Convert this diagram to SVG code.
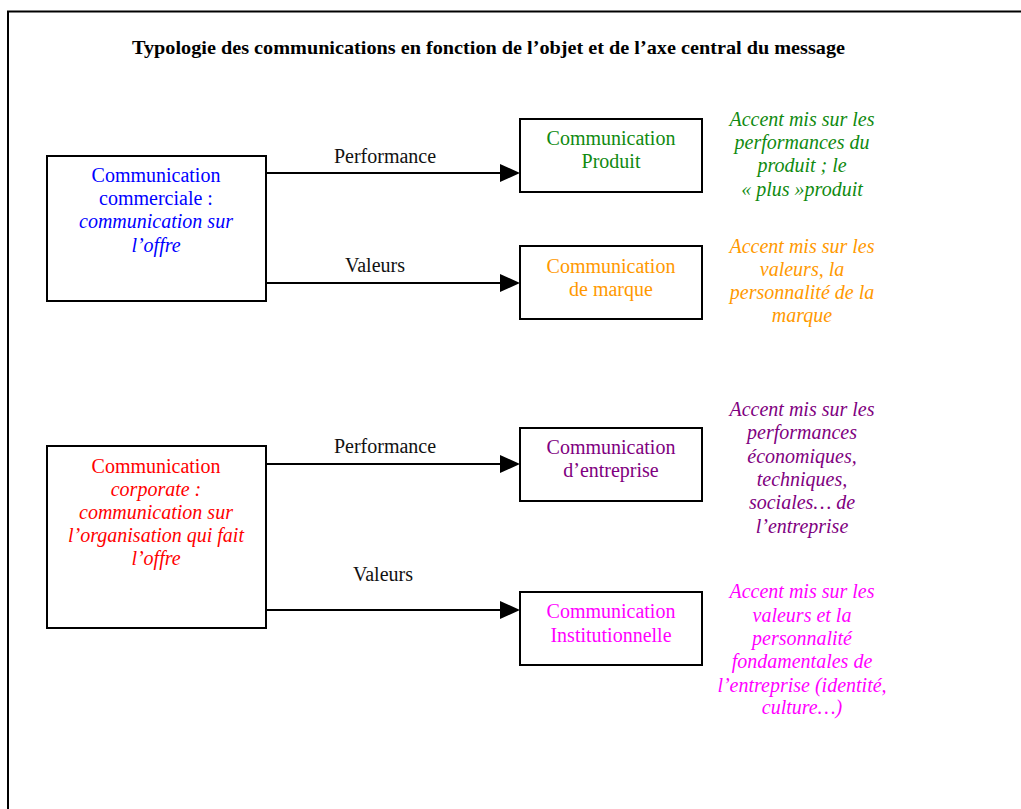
<svg xmlns="http://www.w3.org/2000/svg" width="1021" height="809" viewBox="0 0 1021 809">
  <style>
    text { font-family: "Liberation Serif", "Times New Roman", serif; font-size: 20px; text-anchor: middle; }
    .title { font-weight: bold; font-size: 19px; text-anchor: start; fill: #000; }
    .lbl { fill: #111; }
    .it { font-style: italic; }
    .box { fill: #fff; stroke: #000; stroke-width: 2; }
    .edge { fill: none; stroke: #000; stroke-width: 2; }
    .blue { fill: #0000ff; }
    .red { fill: #ff0000; }
    .green { fill: #108a10; }
    .orange { fill: #ff9900; }
    .purple { fill: #800080; }
    .magenta { fill: #ff00ff; }
  </style>
  <defs>
    <marker id="head" markerUnits="userSpaceOnUse" markerWidth="20" markerHeight="20" refX="2" refY="9" orient="auto">
      <path d="M0,0 L20,9 L0,18 z" fill="#000"/>
    </marker>
  </defs>

  <rect width="1021" height="809" fill="#fff"/>
  <!-- page frame -->
  <path d="M8,830 V11.5 H1040" fill="none" stroke="#000" stroke-width="2"/>

  <text class="title" x="132" y="54" textLength="713" lengthAdjust="spacingAndGlyphs">Typologie des communications en fonction de l’objet et de l’axe central du message</text>

  <!-- connectors -->
  <g id="connectors">
    <path class="edge" d="M266,173 H502" marker-end="url(#head)"/>
    <path class="edge" d="M266,283 H502" marker-end="url(#head)"/>
    <path class="edge" d="M266,464 H502" marker-end="url(#head)"/>
    <path class="edge" d="M266,610 H502" marker-end="url(#head)"/>
    <text class="lbl" x="385" y="163">Performance</text>
    <text class="lbl" x="375" y="272">Valeurs</text>
    <text class="lbl" x="385" y="453">Performance</text>
    <text class="lbl" x="383" y="581">Valeurs</text>
  </g>

  <!-- source nodes -->
  <g id="commerciale">
    <rect class="box" x="47" y="156" width="219" height="145"/>
    <text class="blue" x="156" y="182">Communication</text>
    <text class="blue" x="156" y="205">commerciale :</text>
    <text class="blue it" x="156" y="228">communication sur</text>
    <text class="blue it" x="156" y="252">l’offre</text>
  </g>

  <g id="corporate">
    <rect class="box" x="47" y="446" width="219" height="182"/>
    <text class="red" x="156" y="473">Communication</text>
    <text class="red it" x="156" y="496">corporate :</text>
    <text class="red it" x="156" y="519">communication sur</text>
    <text class="red it" x="156" y="542">l’organisation qui fait</text>
    <text class="red it" x="156" y="565">l’offre</text>
  </g>

  <!-- target nodes -->
  <g id="produit">
    <rect class="box" x="520" y="119" width="182" height="73"/>
    <text class="green" x="611" y="145">Communication</text>
    <text class="green" x="611" y="168">Produit</text>
  </g>

  <g id="marque">
    <rect class="box" x="520" y="246" width="182" height="73"/>
    <text class="orange" x="611" y="273">Communication</text>
    <text class="orange" x="611" y="296">de marque</text>
  </g>

  <g id="entreprise">
    <rect class="box" x="520" y="428" width="182" height="73"/>
    <text class="purple" x="611" y="454">Communication</text>
    <text class="purple" x="611" y="477">d’entreprise</text>
  </g>

  <g id="institutionnelle">
    <rect class="box" x="520" y="592" width="182" height="73"/>
    <text class="magenta" x="611" y="618">Communication</text>
    <text class="magenta" x="611" y="642">Institutionnelle</text>
  </g>

  <!-- annotations -->
  <g id="note-produit">
    <text class="green it" x="802" y="126">Accent mis sur les</text>
    <text class="green it" x="802" y="149">performances du</text>
    <text class="green it" x="802" y="172">produit ; le</text>
    <text class="green it" x="802" y="196">« plus »produit</text>
  </g>

  <g id="note-marque">
    <text class="orange it" x="802" y="253">Accent mis sur les</text>
    <text class="orange it" x="802" y="276">valeurs, la</text>
    <text class="orange it" x="802" y="299">personnalité de la</text>
    <text class="orange it" x="802" y="322">marque</text>
  </g>

  <g id="note-entreprise">
    <text class="purple it" x="802" y="416">Accent mis sur les</text>
    <text class="purple it" x="802" y="439">performances</text>
    <text class="purple it" x="802" y="463">économiques,</text>
    <text class="purple it" x="802" y="486">techniques,</text>
    <text class="purple it" x="802" y="509">sociales… de</text>
    <text class="purple it" x="802" y="533">l’entreprise</text>
  </g>

  <g id="note-institutionnelle">
    <text class="magenta it" x="802" y="598">Accent mis sur les</text>
    <text class="magenta it" x="802" y="622">valeurs et la</text>
    <text class="magenta it" x="802" y="645">personnalité</text>
    <text class="magenta it" x="802" y="668">fondamentales de</text>
    <text class="magenta it" x="802" y="692">l’entreprise (identité,</text>
    <text class="magenta it" x="802" y="714">culture…)</text>
  </g>
</svg>
